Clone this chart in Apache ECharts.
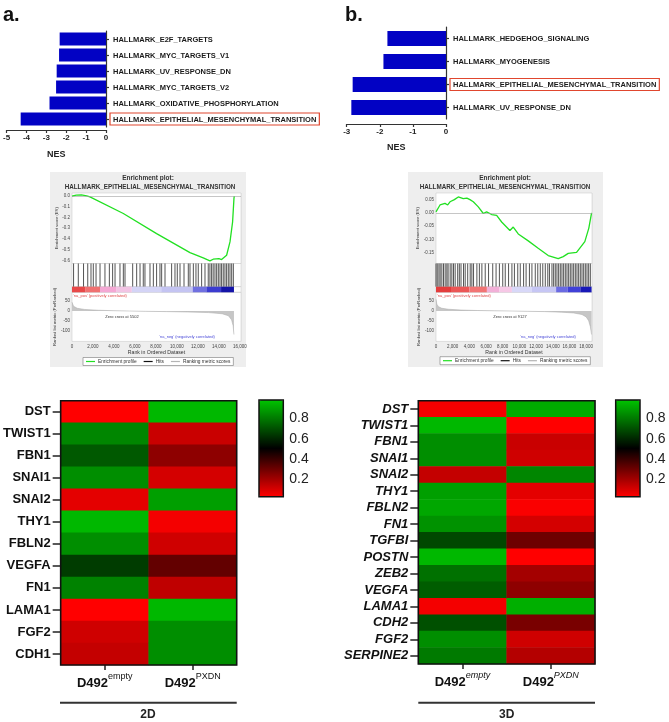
<!DOCTYPE html>
<html>
<head>
<meta charset="utf-8">
<script src="https://cdn.jsdelivr.net/npm/echarts@6/dist/echarts.min.js"></script>
<style>
  html, body { margin: 0; padding: 0; background: #fff; }
  #chart { width: 669px; height: 722px; }
</style>
</head>
<body>
<div id="chart"></div>
<script>
// 字体
const FONT = '"Liberation Sans", Arial, sans-serif';

// ---- a / b 顶部 NES 条形图 ----
const barCatsA = ['HALLMARK_E2F_TARGETS', 'HALLMARK_MYC_TARGETS_V1', 'HALLMARK_UV_RESPONSE_DN',
  'HALLMARK_MYC_TARGETS_V2', 'HALLMARK_OXIDATIVE_PHOSPHORYLATION', 'HALLMARK_EPITHELIAL_MESENCHYMAL_TRANSITION'];
const barValsA = [-2.33, -2.36, -2.48, -2.51, -2.84, -4.29];
const barCatsB = ['HALLMARK_HEDGEHOG_SIGNALING', 'HALLMARK_MYOGENESIS',
  'HALLMARK_EPITHELIAL_MESENCHYMAL_TRANSITION', 'HALLMARK_UV_RESPONSE_DN'];
const barValsB = [-1.77, -1.89, -2.82, -2.86];
const boxedCat = 'HALLMARK_EPITHELIAL_MESENCHYMAL_TRANSITION';

// ---- GSEA 富集图 ----
// [rank, ES]
const esA = [[0, 0], [400, 0.01], [900, 0.012], [1400, 0.004], [1710, -0.007], [4890, -0.162],
  [8060, -0.35], [11240, -0.528], [12500, -0.578], [13140, -0.606], [13450, -0.59], [13620, -0.574],
  [14000, -0.585], [14250, -0.593], [14730, -0.553], [15050, -0.428], [15300, -0.24], [15430, -0.02], [15460, 0]];
const esB = [[0, 0.004], [480, 0.03], [1080, 0.036], [1400, 0.03], [1680, 0.042], [2200, 0.05], [2670, 0.06],
  [3270, 0.054], [3700, 0.056], [4070, 0.05], [4470, 0.042], [5070, 0.023], [5670, -0.002], [6070, 0.004],
  [6670, -0.006], [7270, -0.009], [7870, -0.034], [8860, -0.066], [9260, -0.053], [9860, -0.079],
  [11060, -0.105], [12250, -0.133], [13450, -0.16], [14650, -0.172], [15250, -0.164], [15850, -0.152],
  [16850, -0.148], [17840, -0.108], [18320, -0.057], [18650, 0]];
const hitsA = [150, 600, 1100, 1500, 1810, 2030, 2290, 2670, 3140, 3560, 3870, 4100, 4570, 4890, 5050,
  5780, 6160, 6480, 6790, 6950, 7430, 7750, 8060, 8380, 8540, 8860, 9490, 9810, 10030, 10290, 10670,
  11080, 11240, 11560, 11810, 12030, 12350, 12670, 12980, 13140, 13300, 13450, 13620, 13780, 13940,
  14100, 14250, 14410, 14570, 14730, 14890, 15050, 15210, 15370];
const hitsB = [0, 150, 350, 500, 700, 900, 1100, 1300, 1450, 1700, 1900, 2100, 2300, 2600, 2800, 3000,
  3300, 3500, 3800, 4100, 4300, 4500, 4900, 5200, 5500, 5900, 6300, 6800, 7200, 7600, 8000, 8300, 8700,
  9100, 9400, 9800, 10100, 10500, 10800, 11200, 11500, 11900, 12200, 12500, 12800, 13100, 13400, 13600,
  13900, 14100, 14300, 14500, 14700, 14900, 15100, 15300, 15500, 15700, 15900, 16100, 16300, 16500,
  16700, 16900, 17100, 17300, 17500, 17700, 17900, 18100, 18300, 18500];
// 排序列表颜色条
const bandEdgesA = [0, 1300, 2670, 4200, 5700, 8500, 11500, 12800, 14200, 15430];
const bandColorsA = ['#e84848', '#f07070', '#f4a8d4', '#f2c4e4', '#d4d4f6', '#c4c4f2', '#7070e0', '#3c3cd0', '#1414a8'];
const bandEdgesB = [0, 1800, 4000, 6100, 7600, 9100, 11500, 14400, 15800, 17300, 18650];
const bandColorsB = ['#e43c3c', '#ec5656', '#f27474', '#f2b0d8', '#f6c8e6', '#d8d8f8', '#c6c6f4', '#6a6ae2', '#4040d8', '#1818b8'];
// [rank, metric]
const metricA = [[0, 45], [150, 24], [500, 14], [1200, 8], [2500, 4], [4000, 1.5], [5502, 0], [7000, -1.5],
  [9000, -3], [11000, -5], [13000, -8], [14300, -14], [14900, -24], [15200, -45], [15350, -75], [15430, -120]];
const metricB = [[0, 60], [100, 35], [300, 22], [700, 14], [1500, 9], [3000, 5], [5000, 2.5], [7000, 1],
  [9127, 0], [11000, -1.5], [13000, -3], [15000, -6], [16500, -10], [17500, -18], [18000, -30],
  [18300, -50], [18500, -80], [18650, -120]];

// ---- 热图 ----
const colsHeat = ['empty', 'PXDN'];
const genesA = ['DST', 'TWIST1', 'FBN1', 'SNAI1', 'SNAI2', 'THY1', 'FBLN2', 'VEGFA', 'FN1', 'LAMA1', 'FGF2', 'CDH1'];
const emptyA = [0.03, 0.83, 0.72, 0.85, 0.08, 0.95, 0.85, 0.65, 0.82, 0.03, 0.12, 0.14];
const pxdnA = [0.95, 0.13, 0.24, 0.11, 0.89, 0.05, 0.12, 0.32, 0.15, 0.95, 0.85, 0.85];
const genesB = ['DST', 'TWIST1', 'FBN1', 'SNAI1', 'SNAI2', 'THY1', 'FBLN2', 'FN1', 'TGFBI', 'POSTN',
  'ZEB2', 'VEGFA', 'LAMA1', 'CDH2', 'FGF2', 'SERPINE2'];
const emptyB = [0.05, 0.95, 0.85, 0.85, 0.14, 0.89, 0.91, 0.86, 0.68, 0.95, 0.78, 0.73, 0.05, 0.70, 0.85, 0.80];
const pxdnB = [0.92, 0.03, 0.13, 0.12, 0.83, 0.08, 0.04, 0.11, 0.30, 0.03, 0.20, 0.24, 0.93, 0.28, 0.12, 0.17];
const scaleTicks = [0.2, 0.4, 0.6, 0.8];

function heatData(a, b) {
  const out = [];
  a.forEach((v, i) => out.push([0, i, v]));
  b.forEach((v, i) => out.push([1, i, v]));
  return out;
}

const chart = echarts.init(document.getElementById('chart'));

// 条形图 y 轴标签（EMT 加红框）
function barLabel(v) {
  return v === boxedCat ? '{box|' + v + '}' : '{n|' + v + '}';
}
const barRich = {
  n: { fontSize: 7.5, fontWeight: 'bold', color: '#1a1a1a', padding: [2, 3, 1, 3], fontFamily: FONT },
  box: { fontSize: 7.5, fontWeight: 'bold', color: '#1a1a1a', padding: [2.5, 3, 1.5, 3], borderColor: '#e0462e', borderWidth: 1.2, fontFamily: FONT }
};

function barAxes(gi, cats, nameGap, offset) {
  return {
    x: {
      gridIndex: gi, type: 'value', max: 0, interval: 1, offset: offset,
      axisLine: { show: true, lineStyle: { color: '#333', width: 1.2 } },
      axisTick: { show: true, length: 3, lineStyle: { color: '#333', width: 1.2 } },
      axisLabel: { fontSize: 8, fontWeight: 'bold', color: '#222', margin: 4 },
      splitLine: { show: false },
      name: 'NES', nameLocation: 'middle', nameGap: nameGap,
      nameTextStyle: { fontSize: 9, fontWeight: 'bold', color: '#222' }
    },
    y: {
      gridIndex: gi, type: 'category', data: cats, inverse: true, position: 'right',
      axisLine: { show: true, lineStyle: { color: '#333', width: 1.2 } },
      axisTick: { show: true, alignWithLabel: true, length: 3, lineStyle: { color: '#333', width: 1.2 } },
      axisLabel: { margin: 4, interval: 0, formatter: barLabel, rich: barRich },
      splitLine: { show: false }
    }
  };
}

// GSEA 轴
const gseaGrid = '#e4e4e4';
function gseaAxes(gi, xmax, kind, ymin, ymax, ticks, yname) {
  const x = {
    gridIndex: gi, type: 'value', min: 0, max: xmax, interval: 2000,
    axisLine: { show: false }, axisTick: { show: false },
    axisLabel: { show: false },
    splitLine: { show: kind !== 'hits' && kind !== 'band', lineStyle: { color: gseaGrid, width: 0.5 } }
  };
  if (kind === 'metric') {
    x.axisLabel = { show: true, fontSize: 4.5, color: '#444', margin: 2.5, formatter: v => v.toLocaleString('en-US') };
    x.name = 'Rank in Ordered Dataset';
    x.nameLocation = 'middle';
    x.nameGap = 9;
    x.nameTextStyle = { fontSize: 5.2, color: '#333' };
  }
  const y = {
    gridIndex: gi, type: 'value', min: ymin, max: ymax,
    axisLine: { show: false }, axisTick: { show: false },
    axisLabel: { show: false }, splitLine: { show: false }
  };
  if (ticks) {
    y.axisLabel = { show: true, fontSize: 4.5, color: '#444', margin: 2, customValues: ticks,
      formatter: v => (kind === 'es' ? (ymax < 0.05 ? v.toFixed(1) : v.toFixed(2)) : String(v)) };
    y.splitLine = { show: true, lineStyle: { color: gseaGrid, width: 0.5 } };
    y.name = yname;
    y.nameLocation = 'middle';
    y.nameRotate = 90;
    y.nameGap = 11;
    y.nameTextStyle = { fontSize: 4.2, color: '#333' };
  }
  return { x, y };
}

function hitRender(params, api) {
  const r = api.value(0);
  const p1 = api.coord([r, 1]);
  const p2 = api.coord([r, 0]);
  return { type: 'line', shape: { x1: p1[0], y1: p1[1], x2: p2[0], y2: p2[1] },
    style: { stroke: '#111', lineWidth: 0.9, opacity: 0.8 } };
}
function bandRender(colors) {
  return function (params, api) {
    const p1 = api.coord([api.value(0), 1]);
    const p2 = api.coord([api.value(1), 0]);
    return { type: 'rect', shape: { x: p1[0], y: p1[1], width: p2[0] - p1[0], height: p2[1] - p1[1] },
      style: { fill: colors[params.dataIndex] } };
  };
}
function bandData(edges) {
  const out = [];
  for (let i = 0; i < edges.length - 1; i++) out.push([edges[i], edges[i + 1]]);
  return out;
}

// 热图 x 轴标签（上标）
function heatXAxis(gi, italicSup) {
  return {
    gridIndex: gi, type: 'category', data: colsHeat,
    axisLine: { show: false },
    axisTick: { show: true, alignWithLabel: true, length: 5, lineStyle: { color: '#222', width: 1.5 } },
    axisLabel: {
      margin: 7, interval: 0, formatter: v => '{b|D492}{s|' + v + '}',
      rich: {
        b: { fontSize: 13, fontWeight: 'bold', color: '#111', lineHeight: 18, verticalAlign: 'bottom', fontFamily: FONT },
        s: { fontSize: 9, color: '#111', lineHeight: 18, verticalAlign: 'top', fontStyle: italicSup ? 'italic' : 'normal', fontFamily: FONT }
      }
    },
    splitLine: { show: false }
  };
}
function heatYAxis(gi, genes, italic) {
  return {
    gridIndex: gi, type: 'category', data: genes, inverse: true,
    axisLine: { show: false },
    axisTick: { show: true, alignWithLabel: true, length: 8, lineStyle: { color: '#222', width: 1.5 } },
    axisLabel: { interval: 0, fontSize: 13, fontWeight: 'bold', fontStyle: italic ? 'italic' : 'normal', color: '#111', margin: 10 },
    splitLine: { show: false }
  };
}
function scaleAxes(gi) {
  return {
    x: { gridIndex: gi, type: 'value', show: false },
    y: {
      gridIndex: gi, type: 'value', min: 0, max: 1, position: 'right',
      axisLine: { show: false },
      axisTick: { show: true, length: 3, customValues: scaleTicks, lineStyle: { color: '#222', width: 1 } },
      axisLabel: { fontSize: 14, color: '#222', margin: 6, customValues: scaleTicks, formatter: v => v.toFixed(1) },
      splitLine: { show: false }
    }
  };
}

const barA = barAxes(0, barCatsA, 20, 3);
barA.x.min = -5;
const barB = barAxes(1, barCatsB, 19, 5);
barB.x.min = -3;

const esAxA = gseaAxes(2, 16100, 'es', -0.63, 0.03, [0, -0.1, -0.2, -0.3, -0.4, -0.5, -0.6], 'Enrichment score (ES)');
const hitAxA = gseaAxes(3, 16100, 'hits', 0, 1);
const bandAxA = gseaAxes(4, 16100, 'band', 0, 1);
const metAxA = gseaAxes(5, 16100, 'metric', -155, 95, [50, 0, -50, -100], 'Ranked list metric (PreRanked)');
const esAxB = gseaAxes(6, 18700, 'es', -0.19, 0.075, [0.05, 0, -0.05, -0.1, -0.15], 'Enrichment score (ES)');
const hitAxB = gseaAxes(7, 18700, 'hits', 0, 1);
const bandAxB = gseaAxes(8, 18700, 'band', 0, 1);
const metAxB = gseaAxes(9, 18700, 'metric', -155, 95, [50, 0, -50, -100], 'Ranked list metric (PreRanked)');
const scA = scaleAxes(12);
const scB = scaleAxes(13);

const gseaGridStyle = { show: true, backgroundColor: '#fff', borderColor: '#c4c4c4', borderWidth: 0.5, z: 1 };
const heatGridStyle = { show: true, backgroundColor: 'transparent', borderColor: '#111', borderWidth: 1.6, z: 10 };

const series = [];
series.push({ type: 'bar', xAxisIndex: 0, yAxisIndex: 0, data: barValsA, barWidth: 13, itemStyle: { color: '#0202c4' } });
series.push({ type: 'bar', xAxisIndex: 1, yAxisIndex: 1, data: barValsB, barWidth: 15, itemStyle: { color: '#0202c4' } });

function gseaSeries(base, es, hits, edges, colors, metric) {
  series.push({ name: 'Enrichment profile', type: 'line', xAxisIndex: base, yAxisIndex: base, data: es,
    showSymbol: false, symbol: 'none', lineStyle: { color: '#22e022', width: 1.3 }, itemStyle: { color: '#22e022' },
    markLine: { silent: true, symbol: 'none', label: { show: false },
      lineStyle: { color: '#a0a0a0', width: 0.6, type: 'solid' }, data: [{ yAxis: 0 }] } });
  series.push({ name: 'Hits', type: 'custom', xAxisIndex: base + 1, yAxisIndex: base + 1,
    data: hits.map(r => [r]), renderItem: hitRender, itemStyle: { color: '#111' } });
  series.push({ type: 'custom', xAxisIndex: base + 2, yAxisIndex: base + 2,
    data: bandData(edges), renderItem: bandRender(colors) });
  series.push({ name: 'Ranking metric scores', type: 'line', xAxisIndex: base + 3, yAxisIndex: base + 3,
    data: metric, showSymbol: false, symbol: 'none', lineStyle: { color: '#a8a8a8', width: 0.5 },
    itemStyle: { color: '#a8a8a8' }, areaStyle: { color: '#c6c6c6', opacity: 1 } });
}
gseaSeries(2, esA, hitsA, bandEdgesA, bandColorsA, metricA);
gseaSeries(6, esB, hitsB, bandEdgesB, bandColorsB, metricB);

const heatIdxA = series.length;
series.push({ type: 'heatmap', xAxisIndex: 10, yAxisIndex: 10, data: heatData(emptyA, pxdnA), emphasis: { disabled: true } });
const heatIdxB = series.length;
series.push({ type: 'heatmap', xAxisIndex: 11, yAxisIndex: 11, data: heatData(emptyB, pxdnB), emphasis: { disabled: true } });

const scaleColors = ['#ff0000', '#000000', '#00c400'];
function scaleVM(idx, left) {
  return { type: 'continuous', seriesIndex: idx, min: 0.03, max: 0.98, left: left, top: 400,
    itemWidth: 24.3, itemHeight: 96.7, padding: 0, calculable: false, realtime: false,
    inRange: { color: scaleColors }, textStyle: { color: 'transparent', fontSize: 1 } };
}

function gseaLegend(left, top) {
  return {
    left: left, top: top, orient: 'horizontal', icon: 'rect', itemWidth: 9, itemHeight: 1.2, itemGap: 7,
    padding: [1.5, 3, 1.5, 3], borderColor: '#777', borderWidth: 0.6, backgroundColor: '#fff',
    selectedMode: false, textStyle: { fontSize: 4.8, color: '#333', padding: [0, 0, 0, -2] },
    data: [
      { name: 'Enrichment profile', itemStyle: { color: '#22e022' } },
      { name: 'Hits', itemStyle: { color: '#111' } },
      { name: 'Ranking metric scores', itemStyle: { color: '#b4b4b4' } }
    ]
  };
}

function txt(x, y, text, size, opts) {
  const o = opts || {};
  return { type: 'text', x: x, y: y, z: 50, style: {
    text: text, fontSize: size, fontWeight: o.bold ? 'bold' : 'normal', fontFamily: FONT,
    fill: o.color || '#333', align: o.align || 'center', verticalAlign: 'middle',
    textAlign: o.align || 'center', textVerticalAlign: 'middle' } };
}

const graphic = [
  // GSEA 灰色背景
  { type: 'rect', z: -10, shape: { x: 50, y: 172, width: 196, height: 195 }, style: { fill: '#eeeeee' } },
  { type: 'rect', z: -10, shape: { x: 408, y: 172, width: 195, height: 195 }, style: { fill: '#eeeeee' } },
  txt(3, 15, 'a.', 20, { bold: true, color: '#111', align: 'left' }),
  txt(345, 15, 'b.', 20, { bold: true, color: '#111', align: 'left' }),
  txt(148, 178, 'Enrichment plot:', 6.5, { bold: true }),
  txt(150, 187, 'HALLMARK_EPITHELIAL_MESENCHYMAL_TRANSITION', 6.3, { bold: true }),
  txt(505, 178, 'Enrichment plot:', 6.5, { bold: true }),
  txt(505, 187, 'HALLMARK_EPITHELIAL_MESENCHYMAL_TRANSITION', 6.3, { bold: true }),
  txt(73, 295.5, "'na_pos' (positively correlated)", 4, { color: '#e04848', align: 'left' }),
  txt(437, 295.5, "'na_pos' (positively correlated)", 4, { color: '#e04848', align: 'left' }),
  txt(122, 316.7, 'Zero cross at 5502', 4, { color: '#333' }),
  txt(510, 316.7, 'Zero cross at 9127', 4, { color: '#333' }),
  txt(187, 336.7, "'na_neg' (negatively correlated)", 4, { color: '#4848d8' }),
  txt(548, 337.3, "'na_neg' (negatively correlated)", 4, { color: '#4848d8' }),
  // 色标边框
  { type: 'rect', z: 40, shape: { x: 259, y: 400, width: 24.3, height: 96.7 }, style: { fill: 'none', stroke: '#111', lineWidth: 1.5 } },
  { type: 'rect', z: 40, shape: { x: 615.7, y: 400, width: 24.3, height: 96.7 }, style: { fill: 'none', stroke: '#111', lineWidth: 1.5 } },
  // 2D / 3D 底部分组线
  { type: 'line', z: 40, shape: { x1: 60, y1: 702.7, x2: 236.7, y2: 702.7 }, style: { stroke: '#333', lineWidth: 2 } },
  { type: 'line', z: 40, shape: { x1: 418.3, y1: 702.7, x2: 595, y2: 702.7 }, style: { stroke: '#333', lineWidth: 2 } },
  txt(148, 715, '2D', 12, { bold: true, color: '#222' }),
  txt(506.7, 715, '3D', 12, { bold: true, color: '#222' })
];

const option = {
  animation: false,
  backgroundColor: '#fff',
  textStyle: { fontFamily: FONT },
  grid: [
    { left: 5, top: 31, width: 101, height: 96 },
    { left: 346.7, top: 27, width: 99.3, height: 92 },
    Object.assign({ left: 72, top: 193, width: 169, height: 70.5 }, gseaGridStyle),
    Object.assign({ left: 72, top: 263.5, width: 169, height: 23.2 }, gseaGridStyle),
    Object.assign({ left: 72, top: 286.7, width: 169, height: 5.6 }, gseaGridStyle),
    Object.assign({ left: 72, top: 292.4, width: 169, height: 49 }, gseaGridStyle),
    Object.assign({ left: 436, top: 193, width: 156, height: 70.5 }, gseaGridStyle),
    Object.assign({ left: 436, top: 263.5, width: 156, height: 23.2 }, gseaGridStyle),
    Object.assign({ left: 436, top: 286.7, width: 156, height: 5.6 }, gseaGridStyle),
    Object.assign({ left: 436, top: 292.4, width: 156, height: 49 }, gseaGridStyle),
    Object.assign({ left: 60, top: 400.7, width: 176.7, height: 264.3 }, heatGridStyle),
    Object.assign({ left: 418.3, top: 400.7, width: 176.7, height: 263.3 }, heatGridStyle),
    { left: 259, top: 398, width: 24.3, height: 101.8 },
    { left: 615.7, top: 398, width: 24.3, height: 101.8 }
  ],
  xAxis: [barA.x, barB.x, esAxA.x, hitAxA.x, bandAxA.x, metAxA.x, esAxB.x, hitAxB.x, bandAxB.x, metAxB.x,
    heatXAxis(10, false), heatXAxis(11, true), scA.x, scB.x],
  yAxis: [barA.y, barB.y, esAxA.y, hitAxA.y, bandAxA.y, metAxA.y, esAxB.y, hitAxB.y, bandAxB.y, metAxB.y,
    heatYAxis(10, genesA, false), heatYAxis(11, genesB, true), scA.y, scB.y],
  visualMap: [scaleVM(heatIdxA, 259), scaleVM(heatIdxB, 615.7)],
  legend: [gseaLegend(83, 357.5), gseaLegend(440, 356.7)],
  graphic: graphic,
  series: series
};

chart.setOption(option);

window.addEventListener('resize', () => chart.resize());
</script>
</body>
</html>
